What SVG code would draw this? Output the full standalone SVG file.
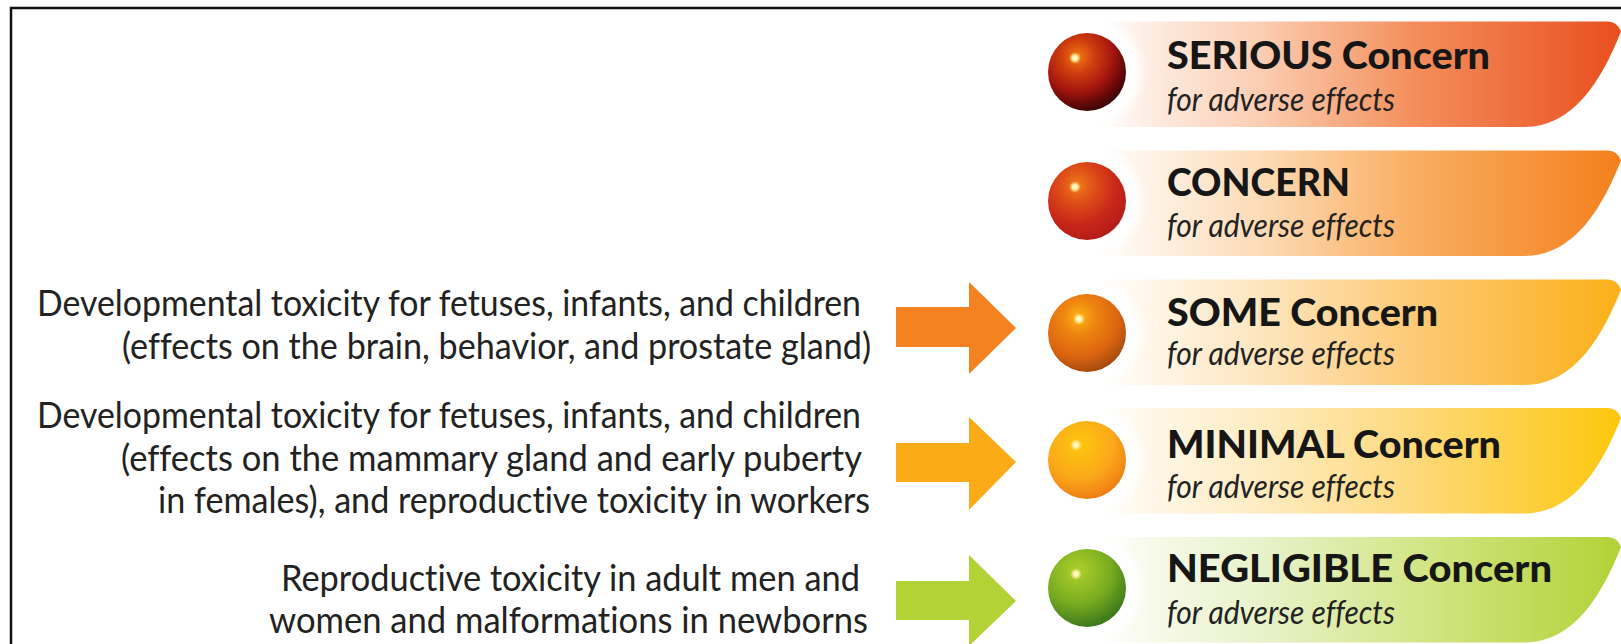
<svg xmlns="http://www.w3.org/2000/svg" width="1621" height="644" viewBox="0 0 1621 644">
<style>
text{font-variant-ligatures:none}
.t{font-family:"Lato","Open Sans",sans-serif;font-size:36px;fill:#222}
.h{font-family:"Lato","Open Sans",sans-serif;font-weight:900;font-size:37px;fill:#161616}
.s{font-family:"Lato","Open Sans",sans-serif;font-style:italic;font-size:32px;fill:#222}
</style>
<defs>
<linearGradient id="b1" gradientUnits="userSpaceOnUse" x1="1100" x2="1621" y1="0" y2="0"><stop offset="0" stop-color="#fff"/><stop offset=".12" stop-color="#fde8dc"/><stop offset=".3" stop-color="#fbcfb4"/><stop offset=".6" stop-color="#f48f5c"/><stop offset="1" stop-color="#e94e1f"/></linearGradient>
<linearGradient id="b2" gradientUnits="userSpaceOnUse" x1="1100" x2="1621" y1="0" y2="0"><stop offset="0" stop-color="#fff"/><stop offset=".12" stop-color="#feefe0"/><stop offset=".3" stop-color="#fddcb8"/><stop offset=".6" stop-color="#f9ae62"/><stop offset="1" stop-color="#f47f1c"/></linearGradient>
<linearGradient id="b3" gradientUnits="userSpaceOnUse" x1="1100" x2="1621" y1="0" y2="0"><stop offset="0" stop-color="#fff"/><stop offset=".12" stop-color="#fff4e4"/><stop offset=".3" stop-color="#fee6c0"/><stop offset=".6" stop-color="#fdc976"/><stop offset="1" stop-color="#fbb017"/></linearGradient>
<linearGradient id="b4" gradientUnits="userSpaceOnUse" x1="1100" x2="1621" y1="0" y2="0"><stop offset="0" stop-color="#fff"/><stop offset=".12" stop-color="#fff6e4"/><stop offset=".3" stop-color="#feecc4"/><stop offset=".6" stop-color="#fed97c"/><stop offset="1" stop-color="#fcc70c"/></linearGradient>
<linearGradient id="b5" gradientUnits="userSpaceOnUse" x1="1100" x2="1621" y1="0" y2="0"><stop offset="0" stop-color="#fff"/><stop offset=".12" stop-color="#f5f9e6"/><stop offset=".3" stop-color="#e9f2cc"/><stop offset=".6" stop-color="#d4e68a"/><stop offset="1" stop-color="#b2d235"/></linearGradient>
<radialGradient id="g1" cx=".38" cy=".3" r=".72"><stop offset="0" stop-color="#f07a12"/><stop offset=".3" stop-color="#cf3d0e"/><stop offset=".62" stop-color="#a5160e"/><stop offset=".85" stop-color="#640808"/><stop offset="1" stop-color="#3c0505"/></radialGradient>
<radialGradient id="g2" cx=".38" cy=".3" r=".72"><stop offset="0" stop-color="#f07a18"/><stop offset=".35" stop-color="#dc4a18"/><stop offset=".7" stop-color="#c8261a"/><stop offset="1" stop-color="#b41c18"/></radialGradient>
<radialGradient id="g3" cx=".4" cy=".3" r=".72"><stop offset="0" stop-color="#fdb515"/><stop offset=".3" stop-color="#ee8510"/><stop offset=".7" stop-color="#dc640f"/><stop offset="1" stop-color="#a24a10"/></radialGradient>
<radialGradient id="g4" cx=".4" cy=".3" r=".72"><stop offset="0" stop-color="#fdc70d"/><stop offset=".6" stop-color="#fba81a"/><stop offset="1" stop-color="#ee7d14"/></radialGradient>
<radialGradient id="g5" cx=".38" cy=".28" r=".72"><stop offset="0" stop-color="#aed02c"/><stop offset=".6" stop-color="#78ab1f"/><stop offset="1" stop-color="#3f7a1c"/></radialGradient>
<radialGradient id="hl"><stop offset="0" stop-color="#fffbe0"/><stop offset=".4" stop-color="#fff4b0"/><stop offset="1" stop-color="#ffe680" stop-opacity="0"/></radialGradient>
<radialGradient id="halo"><stop offset="0" stop-color="#fff"/><stop offset=".8" stop-color="#fff"/><stop offset="1" stop-color="#fff" stop-opacity="0"/></radialGradient>
<path id="band" d="M1100,0H1608Q1617,0 1621,10C1603,55 1575,105.500 1524,105.500H1100Z"/>
</defs>
<rect width="1621" height="644" fill="#fff"/>
<path d="M11,644V8H1621" fill="none" stroke="#111" stroke-width="2.500"/>
<g id="connectors">
<path fill="#f58220" d="M896,307H969V282L1016,328L969,374V347H896Z"/>
<path fill="#fbab18" d="M896,443H969V417L1016,462L969,510V482H896Z"/>
<path fill="#b2d235" d="M896,581H969V555L1016,601L969,646V620H896Z"/>
</g>
<g id="node-serious"><use href="#band" y="21.500" fill="url(#b1)"/><circle cx="1087" cy="72" r="60" fill="url(#halo)"/><circle cx="1087" cy="72" r="39" fill="url(#g1)"/><circle cx="1075" cy="58" r="6" fill="url(#hl)"/><text class="h" x="1167" y="69" textLength="323" lengthAdjust="spacingAndGlyphs">SERIOUS Concern</text><text class="s" x="1167" y="111" textLength="228" lengthAdjust="spacingAndGlyphs">for adverse effects</text></g>
<g id="node-concern"><use href="#band" y="150.500" fill="url(#b2)"/><circle cx="1087" cy="201" r="60" fill="url(#halo)"/><circle cx="1087" cy="201" r="39" fill="url(#g2)"/><circle cx="1075" cy="187" r="6" fill="url(#hl)"/><text class="h" x="1167" y="196" textLength="183" lengthAdjust="spacingAndGlyphs">CONCERN</text><text class="s" x="1167" y="237" textLength="228" lengthAdjust="spacingAndGlyphs">for adverse effects</text></g>
<g id="node-some"><use href="#band" y="279.500" fill="url(#b3)"/><circle cx="1087" cy="333" r="60" fill="url(#halo)"/><circle cx="1087" cy="333" r="39" fill="url(#g3)"/><circle cx="1079" cy="319" r="6" fill="url(#hl)"/><text class="h" x="1167" y="326" textLength="271" lengthAdjust="spacingAndGlyphs">SOME Concern</text><text class="s" x="1167" y="365" textLength="228" lengthAdjust="spacingAndGlyphs">for adverse effects</text></g>
<g id="node-minimal"><use href="#band" y="408" fill="url(#b4)"/><circle cx="1087" cy="460" r="60" fill="url(#halo)"/><circle cx="1087" cy="460" r="39" fill="url(#g4)"/><circle cx="1076" cy="445" r="6" fill="url(#hl)"/><text class="h" x="1167" y="458" textLength="334" lengthAdjust="spacingAndGlyphs">MINIMAL Concern</text><text class="s" x="1167" y="498" textLength="228" lengthAdjust="spacingAndGlyphs">for adverse effects</text></g>
<g id="node-negligible"><use href="#band" y="537" fill="url(#b5)"/><circle cx="1087" cy="588" r="60" fill="url(#halo)"/><circle cx="1087" cy="588" r="39" fill="url(#g5)"/><circle cx="1076" cy="574" r="6" fill="url(#hl)"/><text class="h" x="1167" y="582" textLength="385" lengthAdjust="spacingAndGlyphs">NEGLIGIBLE Concern</text><text class="s" x="1167" y="624" textLength="228" lengthAdjust="spacingAndGlyphs">for adverse effects</text></g>
<g id="labels">
<text class="t" x="37" y="316" textLength="824" lengthAdjust="spacingAndGlyphs">Developmental toxicity for fetuses, infants, and children</text>
<text class="t" x="122" y="359" textLength="749" lengthAdjust="spacingAndGlyphs">(effects on the brain, behavior, and prostate gland)</text>
<text class="t" x="37" y="428" textLength="824" lengthAdjust="spacingAndGlyphs">Developmental toxicity for fetuses, infants, and children</text>
<text class="t" x="121" y="471" textLength="741" lengthAdjust="spacingAndGlyphs">(effects on the mammary gland and early puberty</text>
<text class="t" x="158" y="513" textLength="712" lengthAdjust="spacingAndGlyphs">in females), and reproductive toxicity in workers</text>
<text class="t" x="281" y="591" textLength="579" lengthAdjust="spacingAndGlyphs">Reproductive toxicity in adult men and</text>
<text class="t" x="269" y="633" textLength="599" lengthAdjust="spacingAndGlyphs">women and malformations in newborns</text>
</g>
</svg>
